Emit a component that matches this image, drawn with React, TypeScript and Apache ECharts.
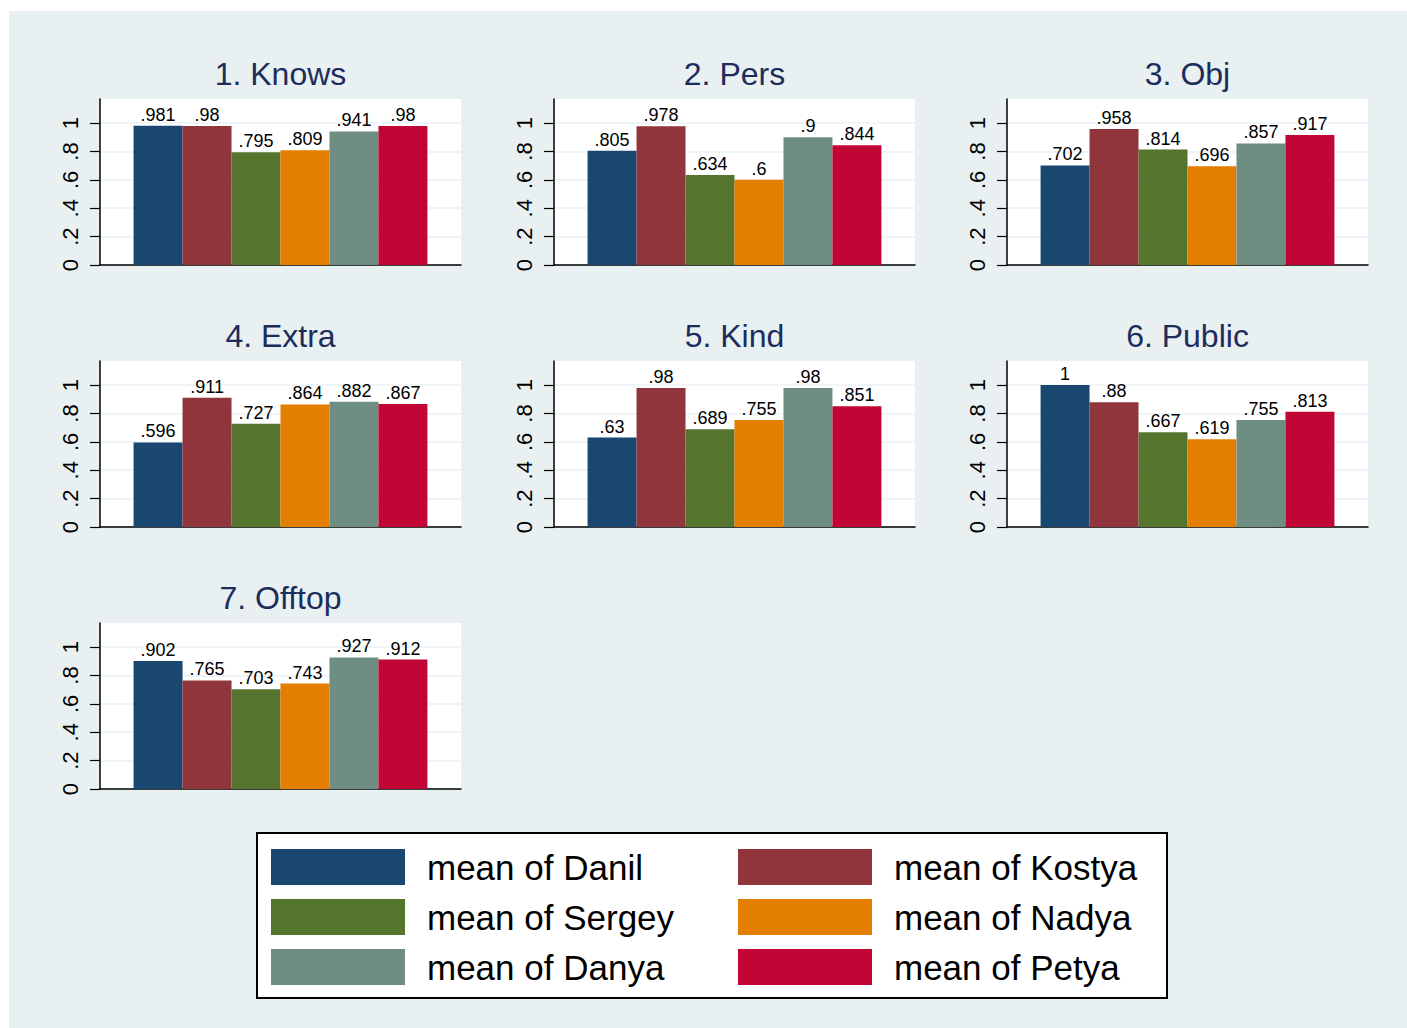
import React, { useEffect, useRef } from "react";
import * as echarts from "echarts";

const panelTitles = ["1. Knows", "2. Pers", "3. Obj", "4. Extra", "5. Kind", "6. Public", "7. Offtop"];
const seriesNames = ["mean of Danil", "mean of Kostya", "mean of Sergey", "mean of Nadya", "mean of Danya", "mean of Petya"];
const danil = [0.981, 0.805, 0.702, 0.596, 0.63, 1, 0.902];
const kostya = [0.98, 0.978, 0.958, 0.911, 0.98, 0.88, 0.765];
const sergey = [0.795, 0.634, 0.814, 0.727, 0.689, 0.667, 0.703];
const nadya = [0.809, 0.6, 0.696, 0.864, 0.755, 0.619, 0.743];
const danya = [0.941, 0.9, 0.857, 0.882, 0.98, 0.755, 0.927];
const petya = [0.98, 0.844, 0.917, 0.867, 0.851, 0.813, 0.912];
const yTicks = [0, 0.2, 0.4, 0.6, 0.8, 1];
const yTickLabels = ["0", ".2", ".4", ".6", ".8", "1"];
const colors = ["#1a476f", "#90353b", "#55752f", "#e37e00", "#6e8e84", "#c10534"];

const allSeries = [danil, kostya, sergey, nadya, danya, petya];

const FONT = "Liberation Sans, Arial, Helvetica, sans-serif";

export default function App() {
  const ref = useRef<HTMLDivElement>(null);
  useEffect(() => {
    document.body.style.margin = "0";
    if (!ref.current) return;
    const chart = echarts.init(ref.current, null, { renderer: "svg" });

    const colLeft = [100, 554, 1007];
    const rowTop = [99, 361, 623];
    const gw = 361;
    const gh = 166;

    const grids: any[] = [];
    const xAxes: any[] = [];
    const yAxes: any[] = [];
    const titles: any[] = [];
    const series: any[] = [];

    panelTitles.forEach((t, i) => {
      const r = Math.floor(i / 3);
      const c = i % 3;
      const left = colLeft[c];
      const top = rowTop[r];
      grids.push({
        left,
        top,
        width: gw,
        height: gh,
        show: true,
        backgroundColor: "#ffffff",
        borderWidth: 0,
        containLabel: false,
      });
      xAxes.push({
        type: "category",
        gridIndex: i,
        data: [t],
        axisLine: { show: true, lineStyle: { color: "#000", width: 1.5 } },
        axisTick: { show: false },
        axisLabel: { show: false },
        splitLine: { show: false },
      });
      yAxes.push({
        type: "value",
        gridIndex: i,
        min: 0,
        max: 1.17,
        interval: 0.2,
        axisLine: { show: true, lineStyle: { color: "#000", width: 1.5 } },
        axisTick: { show: true, length: 10, customValues: yTicks, lineStyle: { color: "#000", width: 1.2 } },
        axisLabel: {
          show: true,
          customValues: yTicks,
          rotate: 90,
          margin: 19,
          fontSize: 22,
          fontFamily: FONT,
          color: "#000",
          formatter: (v: number) => {
            const idx = yTicks.findIndex((tv) => Math.abs(tv - v) < 1e-6);
            return idx >= 0 ? yTickLabels[idx] : "";
          },
        },
        splitLine: { show: true, lineStyle: { color: "#eaf2f3", width: 1.5 } },
      });
      titles.push({
        text: t,
        left: left + gw / 2 - 5,
        top: top - 46,
        textAlign: "center",
        textStyle: { fontSize: 32, fontWeight: "normal", fontFamily: FONT, color: "#1c2d5c" },
      });
      allSeries.forEach((vals, s) => {
        series.push({
          type: "bar",
          name: seriesNames[s],
          xAxisIndex: i,
          yAxisIndex: i,
          data: [vals[i]],
          barGap: "0%",
          barCategoryGap: "18.6%",
          itemStyle: { color: colors[s] },
          label: {
            show: true,
            position: "top",
            distance: 2,
            fontSize: 18,
            fontFamily: FONT,
            color: "#000",
            formatter: (p: any) => String(p.value).replace(/^0\./, "."),
          },
        });
      });
    });

    const legendCommon = {
      orient: "vertical",
      top: 849,
      padding: 0,
      itemWidth: 134,
      itemHeight: 36,
      itemGap: 14,
      icon: "rect",
      selectedMode: false,
      textStyle: { fontSize: 35, fontFamily: FONT, color: "#000", padding: [0, 0, 0, 17] },
    };

    chart.setOption({
      animation: false,
      backgroundColor: "#e8f0f2",
      color: colors,
      title: titles,
      grid: grids,
      xAxis: xAxes,
      yAxis: yAxes,
      legend: [
        { ...legendCommon, left: 271, data: [seriesNames[0], seriesNames[2], seriesNames[4]] },
        { ...legendCommon, left: 738, data: [seriesNames[1], seriesNames[3], seriesNames[5]] },
      ],
      graphic: [
        { type: "rect", z: -5, shape: { x: 0, y: 0, width: 1407, height: 11 }, style: { fill: "#ffffff" }, silent: true },
        { type: "rect", z: -5, shape: { x: 0, y: 0, width: 9, height: 1028 }, style: { fill: "#ffffff" }, silent: true },
        {
          type: "rect",
          z: 1,
          shape: { x: 257, y: 833, width: 910, height: 165 },
          style: { fill: "#ffffff", stroke: "#000000", lineWidth: 2 },
          silent: true,
        },
      ],
      series,
    });
    return () => chart.dispose();
  }, []);
  return <div ref={ref} style={{ width: 1407, height: 1028 }} />;
}
